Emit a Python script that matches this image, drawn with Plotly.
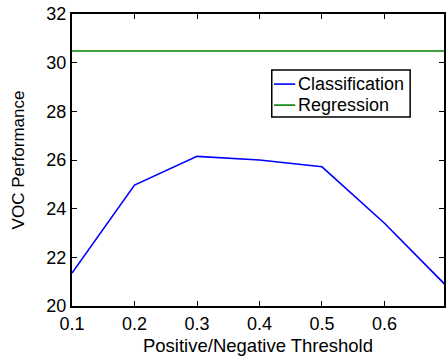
import plotly.graph_objects as go

thresholds = [0.1, 0.2, 0.3, 0.4, 0.5, 0.6, 0.7]
classification = [21.35, 24.97, 26.15, 26.0, 25.72, 23.4, 20.8]
regression_x = [0.1, 0.7]
regression = [30.48, 30.48]
x_ticks = [0.1, 0.2, 0.3, 0.4, 0.5, 0.6, 0.7]
x_labels = ["0.1", "0.2", "0.3", "0.4", "0.5", "0.6", ""]
y_ticks = [20, 22, 24, 26, 28, 30, 32]
series_names = ["Classification", "Regression"]
series_colors = ["#0000ff", "#008000"]

fig = go.Figure()
fig.add_trace(go.Scatter(x=thresholds, y=classification, mode="lines",
                         name=series_names[0], line=dict(color=series_colors[0], width=1.6)))
fig.add_trace(go.Scatter(x=regression_x, y=regression, mode="lines",
                         name=series_names[1], line=dict(color=series_colors[1], width=1.6)))

font = "Liberation Sans, Arial, Helvetica, sans-serif"
fig.update_layout(
    width=446, height=358,
    margin=dict(l=72, r=0, t=14, b=52),
    plot_bgcolor="white", paper_bgcolor="white",
    font=dict(family=font, size=18, color="black"),
    showlegend=False,
)

# custom legend box (MATLAB style)
lx0, lx1, ly0, ly1 = 0.537, 0.909, 0.647, 0.808
fig.add_shape(type="rect", xref="paper", yref="paper", x0=lx0, x1=lx1, y0=ly0, y1=ly1,
              line=dict(color="black", width=1.5), fillcolor="white", layer="above")
rows = [0.760, 0.688]
for name, color, ry in zip(series_names, series_colors, rows):
    fig.add_shape(type="line", xref="paper", yref="paper", x0=lx0 + 0.006, x1=lx0 + 0.063,
                  y0=ry, y1=ry, line=dict(color=color, width=1.6), layer="above")
    fig.add_annotation(xref="paper", yref="paper", x=lx0 + 0.066, y=ry, text=name,
                       showarrow=False, xanchor="left", yanchor="middle",
                       font=dict(size=18, family=font, color="black"))

fig.update_xaxes(range=[0.1, 0.7 - 3/628], tickvals=x_ticks, ticktext=x_labels,
                 ticks="inside", ticklen=5, tickwidth=1, tickcolor="black",
                 showline=True, linecolor="black", linewidth=2, mirror="ticks",
                 showgrid=False, zeroline=False,
                 title=dict(text="Positive/Negative Threshold", standoff=6, font=dict(size=18.5)))
fig.update_yaxes(range=[20, 32], tickvals=y_ticks,
                 ticks="inside", ticklen=5, tickwidth=1, tickcolor="black",
                 showline=True, linecolor="black", linewidth=2, mirror="ticks",
                 showgrid=False, zeroline=False,
                 title=dict(text="VOC Performance", standoff=17, font=dict(size=17)))

fig.write_html("out.html")
